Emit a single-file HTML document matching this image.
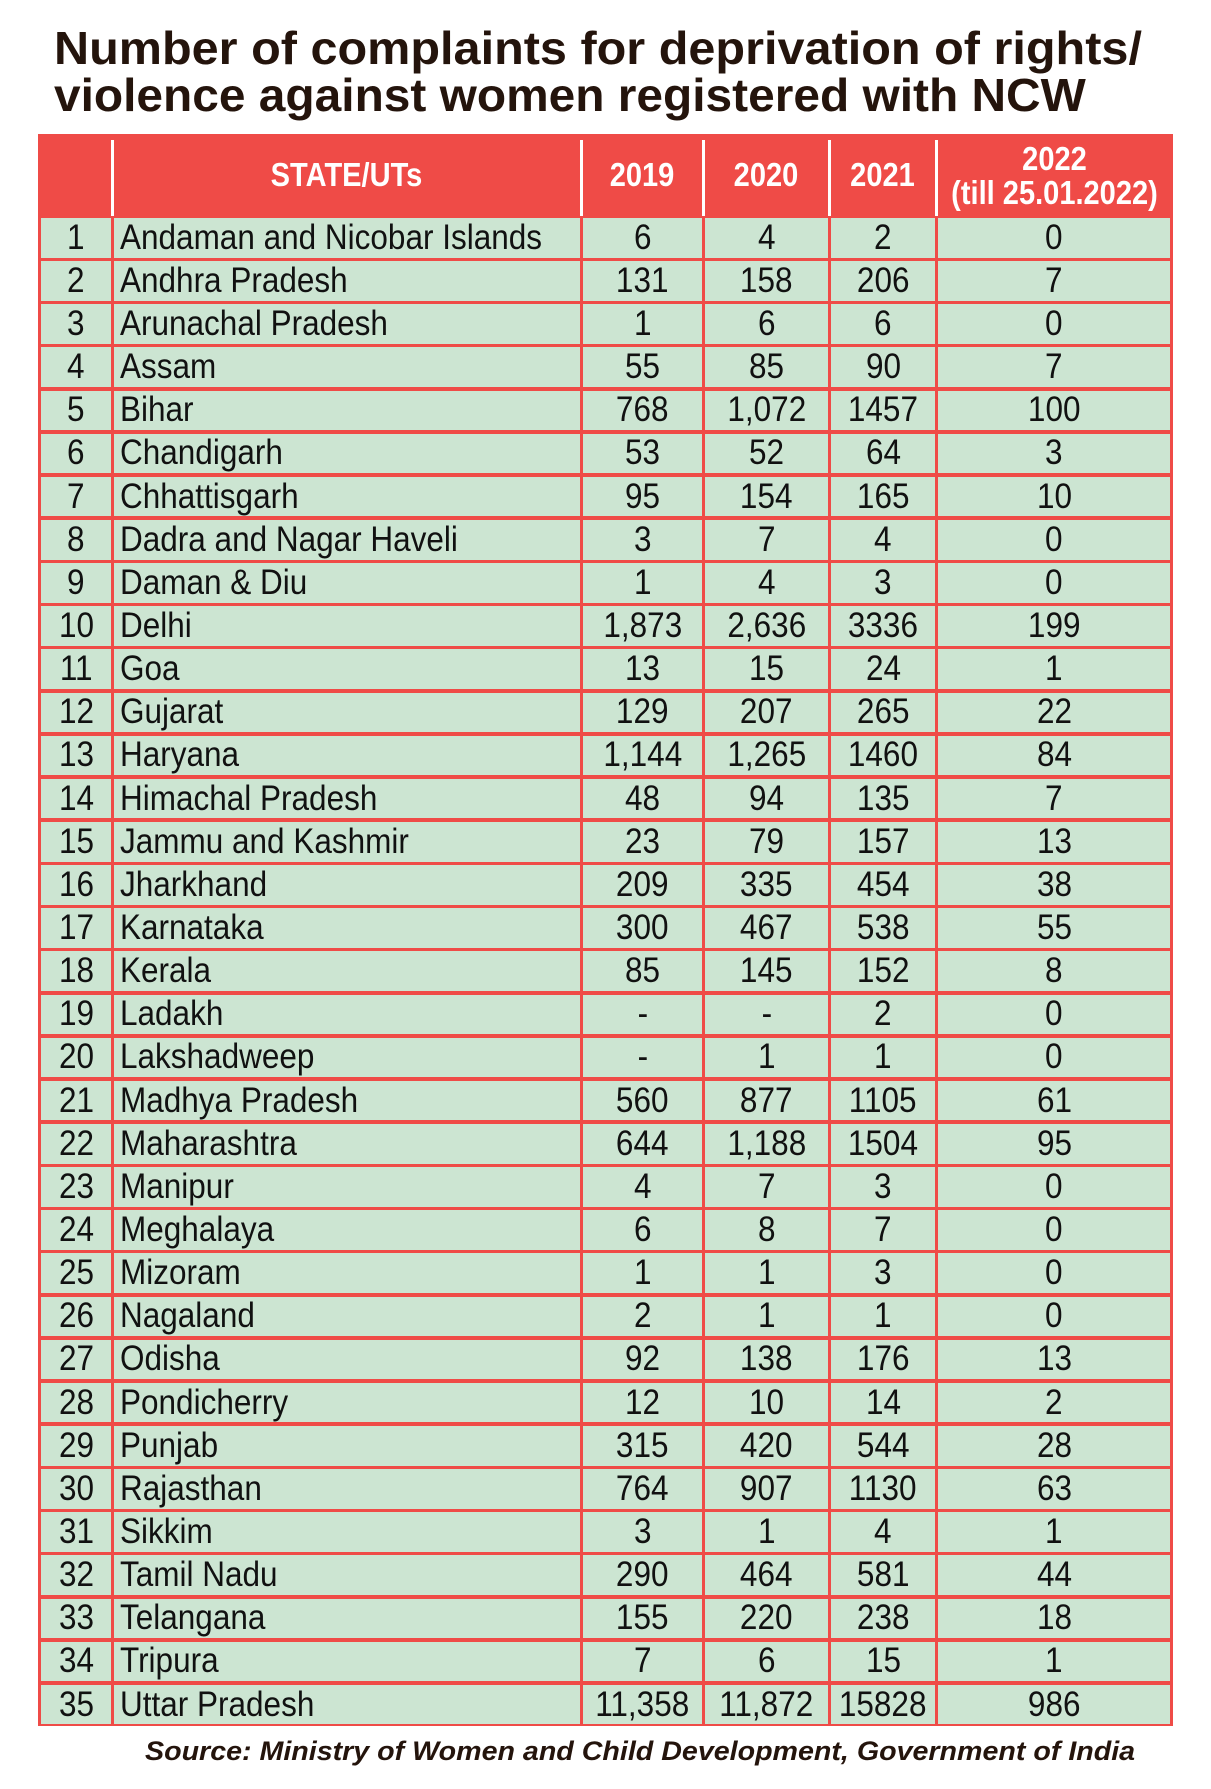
<!DOCTYPE html>
<html><head><meta charset="utf-8"><style>
body{margin:0;width:1211px;height:1789px;background:#fff;position:relative;overflow:hidden;font-family:"Liberation Sans",sans-serif}
.t{position:absolute;white-space:nowrap;font-weight:bold;color:#24140c;transform-origin:0 50%}
#tbl{position:absolute;left:38px;top:134px;width:1135px;height:1592px;background:#ef4b47}
.c{position:absolute;background:#cce5d2;display:flex;align-items:center;justify-content:center;overflow:visible;color:#111}
.c span{display:inline-block;white-space:nowrap;font-size:35px;transform:scaleX(0.9)}
.c.l{justify-content:flex-start}
.c.l span{transform-origin:0 50%;margin-left:6px}
.h{position:absolute;color:#fff;font-weight:bold;text-align:center;font-size:33px;line-height:34px}
.vl{position:absolute;width:3px;background:#fff;top:6px;height:76px}
</style></head><body>
<div class="t" id="t1" style="left:54px;top:22px;font-size:46px;line-height:52px">Number of complaints for deprivation of rights/</div>
<div class="t" id="t2" style="left:54px;top:69px;font-size:46px;line-height:52px">violence against women registered with NCW</div>
<div id="tbl"></div>
<div class="t" id="src" style="left:145px;top:1735px;font-size:27px;line-height:32px;font-style:italic">Source: Ministry of Women and Child Development, Government of India</div>
<script>
var rows=[["Andaman and Nicobar Islands","6","4","2","0"],["Andhra Pradesh","131","158","206","7"],["Arunachal Pradesh","1","6","6","0"],["Assam","55","85","90","7"],["Bihar","768","1,072","1457","100"],["Chandigarh","53","52","64","3"],["Chhattisgarh","95","154","165","10"],["Dadra and Nagar Haveli","3","7","4","0"],["Daman & Diu","1","4","3","0"],["Delhi","1,873","2,636","3336","199"],["Goa","13","15","24","1"],["Gujarat","129","207","265","22"],["Haryana","1,144","1,265","1460","84"],["Himachal Pradesh","48","94","135","7"],["Jammu and Kashmir","23","79","157","13"],["Jharkhand","209","335","454","38"],["Karnataka","300","467","538","55"],["Kerala","85","145","152","8"],["Ladakh","-","-","2","0"],["Lakshadweep","-","1","1","0"],["Madhya Pradesh","560","877","1105","61"],["Maharashtra","644","1,188","1504","95"],["Manipur","4","7","3","0"],["Meghalaya","6","8","7","0"],["Mizoram","1","1","3","0"],["Nagaland","2","1","1","0"],["Odisha","92","138","176","13"],["Pondicherry","12","10","14","2"],["Punjab","315","420","544","28"],["Rajasthan","764","907","1130","63"],["Sikkim","3","1","4","1"],["Tamil Nadu","290","464","581","44"],["Telangana","155","220","238","18"],["Tripura","7","6","15","1"],["Uttar Pradesh","11,358","11,872","15828","986"]];
var xs=[0,74,543,665,791,898,1135];
var T=document.getElementById('tbl'),h='';
var hd=["","STATE/UTs","2019","2020","2021","2022<br>(till 25.01.2022)"];
for(var j=0;j<6;j++){var w=xs[j+1]-xs[j];
h+='<div class="h" style="left:'+xs[j]+'px;top:'+(j==5?8:24)+'px;width:'+w+'px;transform:scaleX(0.88)">'+hd[j]+'</div>';
if(j>0)h+='<div class="vl" style="left:'+(xs[j]-1)+'px"></div>';}
var top0=82,rh=(1592-82)/35;
for(var i=0;i<35;i++){var y=top0+i*rh;var r=[String(i+1)].concat(rows[i]);
for(var j=0;j<6;j++){var x1=xs[j]+(j==0?3:2),x2=xs[j+1]-(j==5?3:1);
h+='<div class="c'+(j==1?' l':'')+'" style="left:'+x1+'px;top:'+(y+2).toFixed(1)+'px;width:'+(x2-x1)+'px;height:'+(rh-3.5).toFixed(1)+'px"><span>'+r[j].replace('&','&amp;')+'</span></div>';}}
T.innerHTML=h;
function fit(id,w){var e=document.getElementById(id);var s=w/e.scrollWidth;e.style.transform='scaleX('+s+')';}
fit('t1',1088);fit('t2',1032);fit('src',990);
</script>
</body></html>
